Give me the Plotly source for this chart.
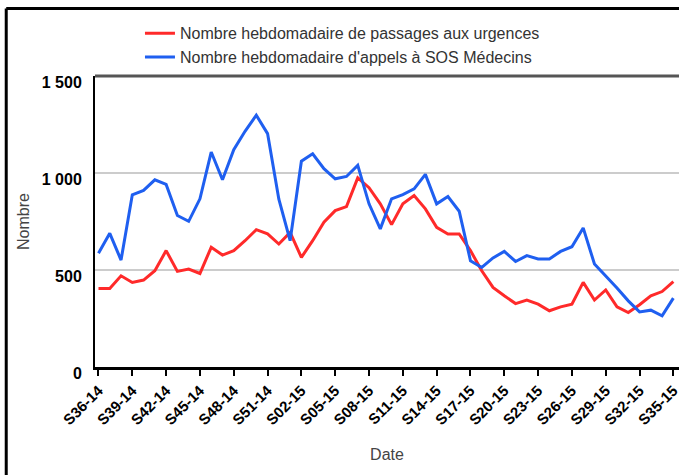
import plotly.graph_objects as go

weeks = [f"S{w:02d}-14" for w in range(36, 53)] + [f"S{w:02d}-15" for w in range(1, 36)]

urgences = [405, 405, 470, 436, 448, 496, 600, 493, 505, 482,
            617, 577, 600, 651, 708, 686, 634, 694, 565, 651,
            746, 806, 827, 975, 924, 841, 734, 841, 884, 815,
            720, 686, 686, 600, 496, 410, 367, 327, 345, 324,
            290, 310, 324, 436, 345, 397, 310, 281, 321, 367,
            389, 440]

sos = [586, 689, 551, 888, 910, 965, 941, 781, 751, 867,
       1108, 965, 1120, 1215, 1298, 1203, 865, 651, 1061, 1099,
       1022, 970, 982, 1039, 841, 712, 867, 889, 918, 993,
       841, 879, 803, 548, 513, 562, 596, 544, 574, 557,
       557, 596, 620, 717, 531, 470, 407, 341, 284, 293,
       264, 355]

tick_weeks = weeks[::3]
y_ticks = [0, 500, 1000, 1500]
y_tick_text = ["0", "500", "1 000", "1 500"]

FONT = "Liberation Sans, Arial, sans-serif"

fig = go.Figure()
fig.add_trace(go.Scatter(x=weeks, y=urgences, mode="lines",
                         name="Nombre hebdomadaire de passages aux urgences",
                         line=dict(color="#ff2a2a", width=3)))
fig.add_trace(go.Scatter(x=weeks, y=sos, mode="lines",
                         name="Nombre hebdomadaire d'appels à SOS Médecins",
                         line=dict(color="#1f5ff0", width=3)))

fig.update_layout(
    width=679, height=475,
    margin=dict(l=95, r=0, t=76, b=108, autoexpand=False),
    paper_bgcolor="white", plot_bgcolor="white",
    showlegend=True,
    legend=dict(x=0.077, y=1.205, xanchor="left", yanchor="top",
                orientation="v",
                font=dict(family=FONT, size=16, color="#333333"),
                bgcolor="rgba(0,0,0,0)", itemwidth=30),
    xaxis=dict(type="category", categoryorder="array", categoryarray=weeks,
               range=[-0.31, 51.5], automargin=False,
               tickmode="array", tickvals=tick_weeks, ticktext=tick_weeks,
               tickangle=-45, ticks="outside", ticklen=6, tickwidth=2,
               tickcolor="black",
               tickfont=dict(family=FONT, size=15, color="black", weight="bold"),
               showline=True, linecolor="black", linewidth=3,
               showgrid=False, zeroline=False,
               title=dict(text="Date", standoff=22,
                          font=dict(family=FONT, size=16, color="#444444"))),
    yaxis=dict(range=[0, 1500], tickmode="array", tickvals=y_ticks,
               ticktext=y_tick_text, ticks="", automargin=False,
               ticklabelstandoff=8, ticklabelshift=6,
               tickfont=dict(family=FONT, size=16, color="black", weight="bold"),
               showline=True, linecolor="black", linewidth=2,
               showgrid=True, gridcolor="#cccccc", gridwidth=2,
               zeroline=False,
               title=dict(text="Nombre", standoff=8,
                          font=dict(family=FONT, size=16, color="#444444"))),
    shapes=[
        dict(type="line", xref="paper", yref="paper", x0=0, x1=1, y0=1, y1=1,
             line=dict(color="#555555", width=3)),
        dict(type="line", xref="paper", yref="paper", x0=-0.152, x1=-0.152,
             y0=-0.5, y1=1.232, line=dict(color="black", width=3)),
        dict(type="line", xref="paper", yref="paper", x0=-0.152, x1=1.05,
             y0=1.232, y1=1.232, line=dict(color="black", width=3)),
    ],
)

fig.write_html(
    "out.html",
    config={"displayModeBar": False},
    post_script="document.body.style.margin='0';document.body.style.overflow='hidden';",
)
